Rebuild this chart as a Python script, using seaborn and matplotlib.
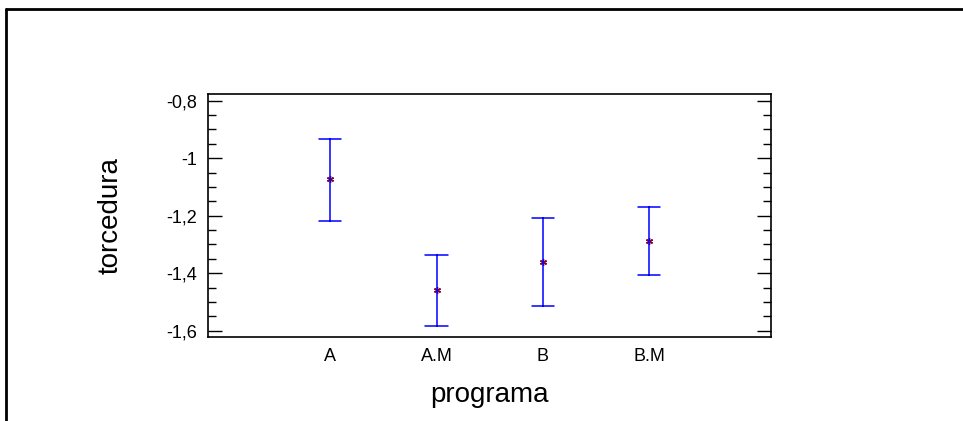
import pandas as pd
import numpy as np
import matplotlib
matplotlib.use('Agg')
import matplotlib.pyplot as plt
import seaborn as sns
from matplotlib.ticker import MultipleLocator, FuncFormatter
from matplotlib.lines import Line2D

# values
programas = ['A', 'A.M', 'B', 'B.M']
medias = [-1.073, -1.459, -1.361, -1.287]
limite_inf = [-1.217, -1.584, -1.515, -1.407]
limite_sup = [-0.932, -1.336, -1.209, -1.171]

# long table: low / mean / high per group -> median is the mean, min/max the interval
rows = []
for p, lo, m, hi in zip(programas, limite_inf, medias, limite_sup):
    for v in (lo, m, hi):
        rows.append({'programa': p, 'torcedura': v})
df = pd.DataFrame(rows)

sns.set_style('white')
plt.rcParams['font.family'] = ['Liberation Sans', 'DejaVu Sans']
plt.rcParams['text.color'] = 'black'
plt.rcParams['axes.labelcolor'] = 'black'
plt.rcParams['xtick.color'] = 'black'
plt.rcParams['ytick.color'] = 'black'

fig = plt.figure(figsize=(9.63, 4.21), dpi=100)
ax = fig.add_axes([0.2157, 0.1988, 0.5849, 0.5772])

sns.pointplot(data=df, x='programa', y='torcedura', order=programas,
              estimator='median', errorbar=('pi', 100), linestyle='none',
              capsize=0.21, color='#800040', marker=(6, 2, 0), markersize=5,
              markeredgewidth=1.0,
              err_kws={'color': '#0000ff', 'linewidth': 1.1}, ax=ax)

ax.set_xlim(-1.153, 4.145)
ax.set_ylim(-1.623, -0.778)

ax.yaxis.set_major_locator(MultipleLocator(0.2))
ax.yaxis.set_minor_locator(MultipleLocator(0.05))
ax.yaxis.set_major_formatter(FuncFormatter(lambda v, _: ('%g' % round(v, 2)).replace('.', ',')))
ax.tick_params(axis='y', which='major', direction='in', length=10, width=1,
               left=True, right=True, labelsize=13, pad=7.5)
ax.tick_params(axis='y', which='minor', direction='in', length=6, width=1,
               left=True, right=True)
ax.tick_params(axis='x', length=0, labelsize=13, pad=8)

for s in ax.spines.values():
    s.set_visible(True)
    s.set_color('black')
    s.set_linewidth(1.2)

ax.set_xlabel('programa', fontsize=20, labelpad=12)
ax.set_ylabel('torcedura', fontsize=20, labelpad=31)

# outer frame (cropped at right/bottom like the original)
fig.add_artist(Line2D([6 / 963, 6 / 963], [0, 1 - 9 / 421], transform=fig.transFigure,
                      color='black', linewidth=2))
fig.add_artist(Line2D([6 / 963, 1], [1 - 9 / 421, 1 - 9 / 421], transform=fig.transFigure,
                      color='black', linewidth=2))

fig.savefig('out.png', dpi=100)
